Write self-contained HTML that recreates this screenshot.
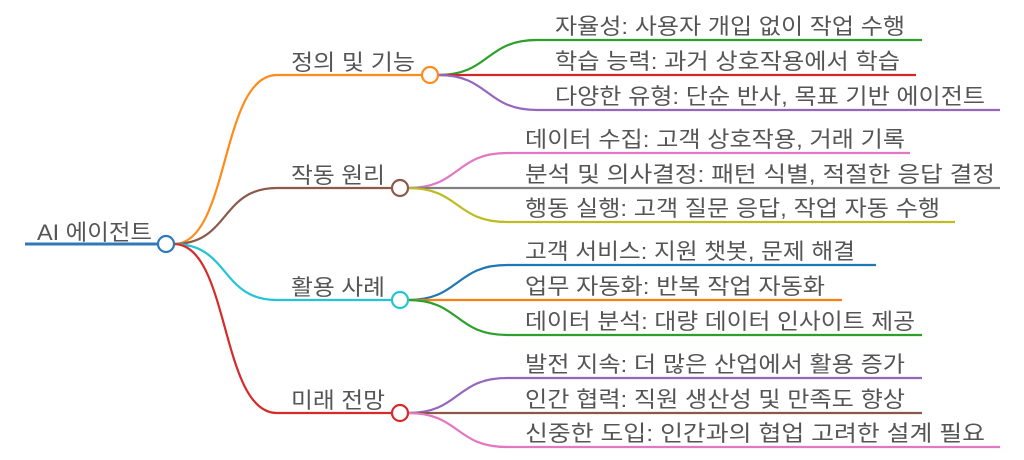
<!DOCTYPE html>
<html><head><meta charset="utf-8"><style>
html,body{margin:0;padding:0;background:#fff;width:1024px;height:460px;overflow:hidden}
svg text{font-family:"Liberation Sans","Noto Sans CJK KR",sans-serif;fill:#555;font-size:22px}
</style></head><body>
<svg width="1024" height="460" viewBox="0 0 1024 460" xmlns="http://www.w3.org/2000/svg">
<g fill="none" stroke-width="2.2">
<line x1="25" y1="244" x2="158" y2="244" stroke="#2f79b9" stroke-width="3"/>
<path d="M174,244 C230,244 220,75 277,75 L422,75" stroke="#ff8c1a"/>
<path d="M174,244 C230,244 220,188 277,188 L392,188" stroke="#8b5a4b"/>
<path d="M174,244 C230,244 220,300 277,300 L392,300" stroke="#22c4d6"/>
<path d="M174,244 C230,244 220,413 277,413 L392,413" stroke="#d62b2b"/>
<path d="M438,75 C490,75 485,40 537,40 L922,40" stroke="#2ca02c"/>
<path d="M438,75 L916,75" stroke="#d62728"/>
<path d="M438,75 C490,75 485,110 537,110 L1000,110" stroke="#9467bd"/>
<path d="M408,188 C460,188 455,153 507,153 L910,153" stroke="#e377c2"/>
<path d="M408,188 L1000,188" stroke="#7f7f7f"/>
<path d="M408,188 C460,188 455,222 507,222 L955,222" stroke="#bcbd22"/>
<path d="M408,300 C460,300 455,265 507,265 L876,265" stroke="#1f77b4"/>
<path d="M408,300 L842,300" stroke="#ff7f0e"/>
<path d="M408,300 C460,300 455,335 507,335 L922,335" stroke="#2ca02c"/>
<path d="M408,413 C460,413 455,378 507,378 L922,378" stroke="#9467bd"/>
<path d="M408,413 L922,413" stroke="#8c564b"/>
<path d="M408,413 C460,413 455,447 507,447 L1000,447" stroke="#e377c2"/>
</g>
<g fill="#fff" stroke-width="2.2">
<circle cx="166" cy="244" r="8" stroke="#2f79b9"/>
<circle cx="430" cy="75" r="8" stroke="#ff8c1a"/>
<circle cx="400" cy="188" r="8" stroke="#8b5a4b"/>
<circle cx="400" cy="300" r="8" stroke="#22c4d6"/>
<circle cx="400" cy="413" r="8" stroke="#d62b2b"/>
</g>
<g lengthAdjust="spacingAndGlyphs">
<text x="37" y="240" textLength="115" lengthAdjust="spacingAndGlyphs">AI 에이전트</text>
<text x="291" y="70" textLength="124" lengthAdjust="spacingAndGlyphs">정의 및 기능</text>
<text x="291" y="183" textLength="94" lengthAdjust="spacingAndGlyphs">작동 원리</text>
<text x="291" y="295" textLength="94" lengthAdjust="spacingAndGlyphs">활용 사례</text>
<text x="291" y="408" textLength="94" lengthAdjust="spacingAndGlyphs">미래 전망</text>
<text x="555" y="34" textLength="350" lengthAdjust="spacingAndGlyphs">자율성: 사용자 개입 없이 작업 수행</text>
<text x="555" y="69" textLength="345" lengthAdjust="spacingAndGlyphs">학습 능력: 과거 상호작용에서 학습</text>
<text x="555" y="104" textLength="430" lengthAdjust="spacingAndGlyphs">다양한 유형: 단순 반사, 목표 기반 에이전트</text>
<text x="525" y="147" textLength="380" lengthAdjust="spacingAndGlyphs">데이터 수집: 고객 상호작용, 거래 기록</text>
<text x="525" y="182" textLength="470" lengthAdjust="spacingAndGlyphs">분석 및 의사결정: 패턴 식별, 적절한 응답 결정</text>
<text x="525" y="216" textLength="415" lengthAdjust="spacingAndGlyphs">행동 실행: 고객 질문 응답, 작업 자동 수행</text>
<text x="525" y="259" textLength="330" lengthAdjust="spacingAndGlyphs">고객 서비스: 지원 챗봇, 문제 해결</text>
<text x="525" y="294" textLength="300" lengthAdjust="spacingAndGlyphs">업무 자동화: 반복 작업 자동화</text>
<text x="525" y="329" textLength="390" lengthAdjust="spacingAndGlyphs">데이터 분석: 대량 데이터 인사이트 제공</text>
<text x="525" y="372" textLength="380" lengthAdjust="spacingAndGlyphs">발전 지속: 더 많은 산업에서 활용 증가</text>
<text x="525" y="407" textLength="380" lengthAdjust="spacingAndGlyphs">인간 협력: 직원 생산성 및 만족도 향상</text>
<text x="525" y="441" textLength="460" lengthAdjust="spacingAndGlyphs">신중한 도입: 인간과의 협업 고려한 설계 필요</text>
</g>
</svg>
</body></html>
